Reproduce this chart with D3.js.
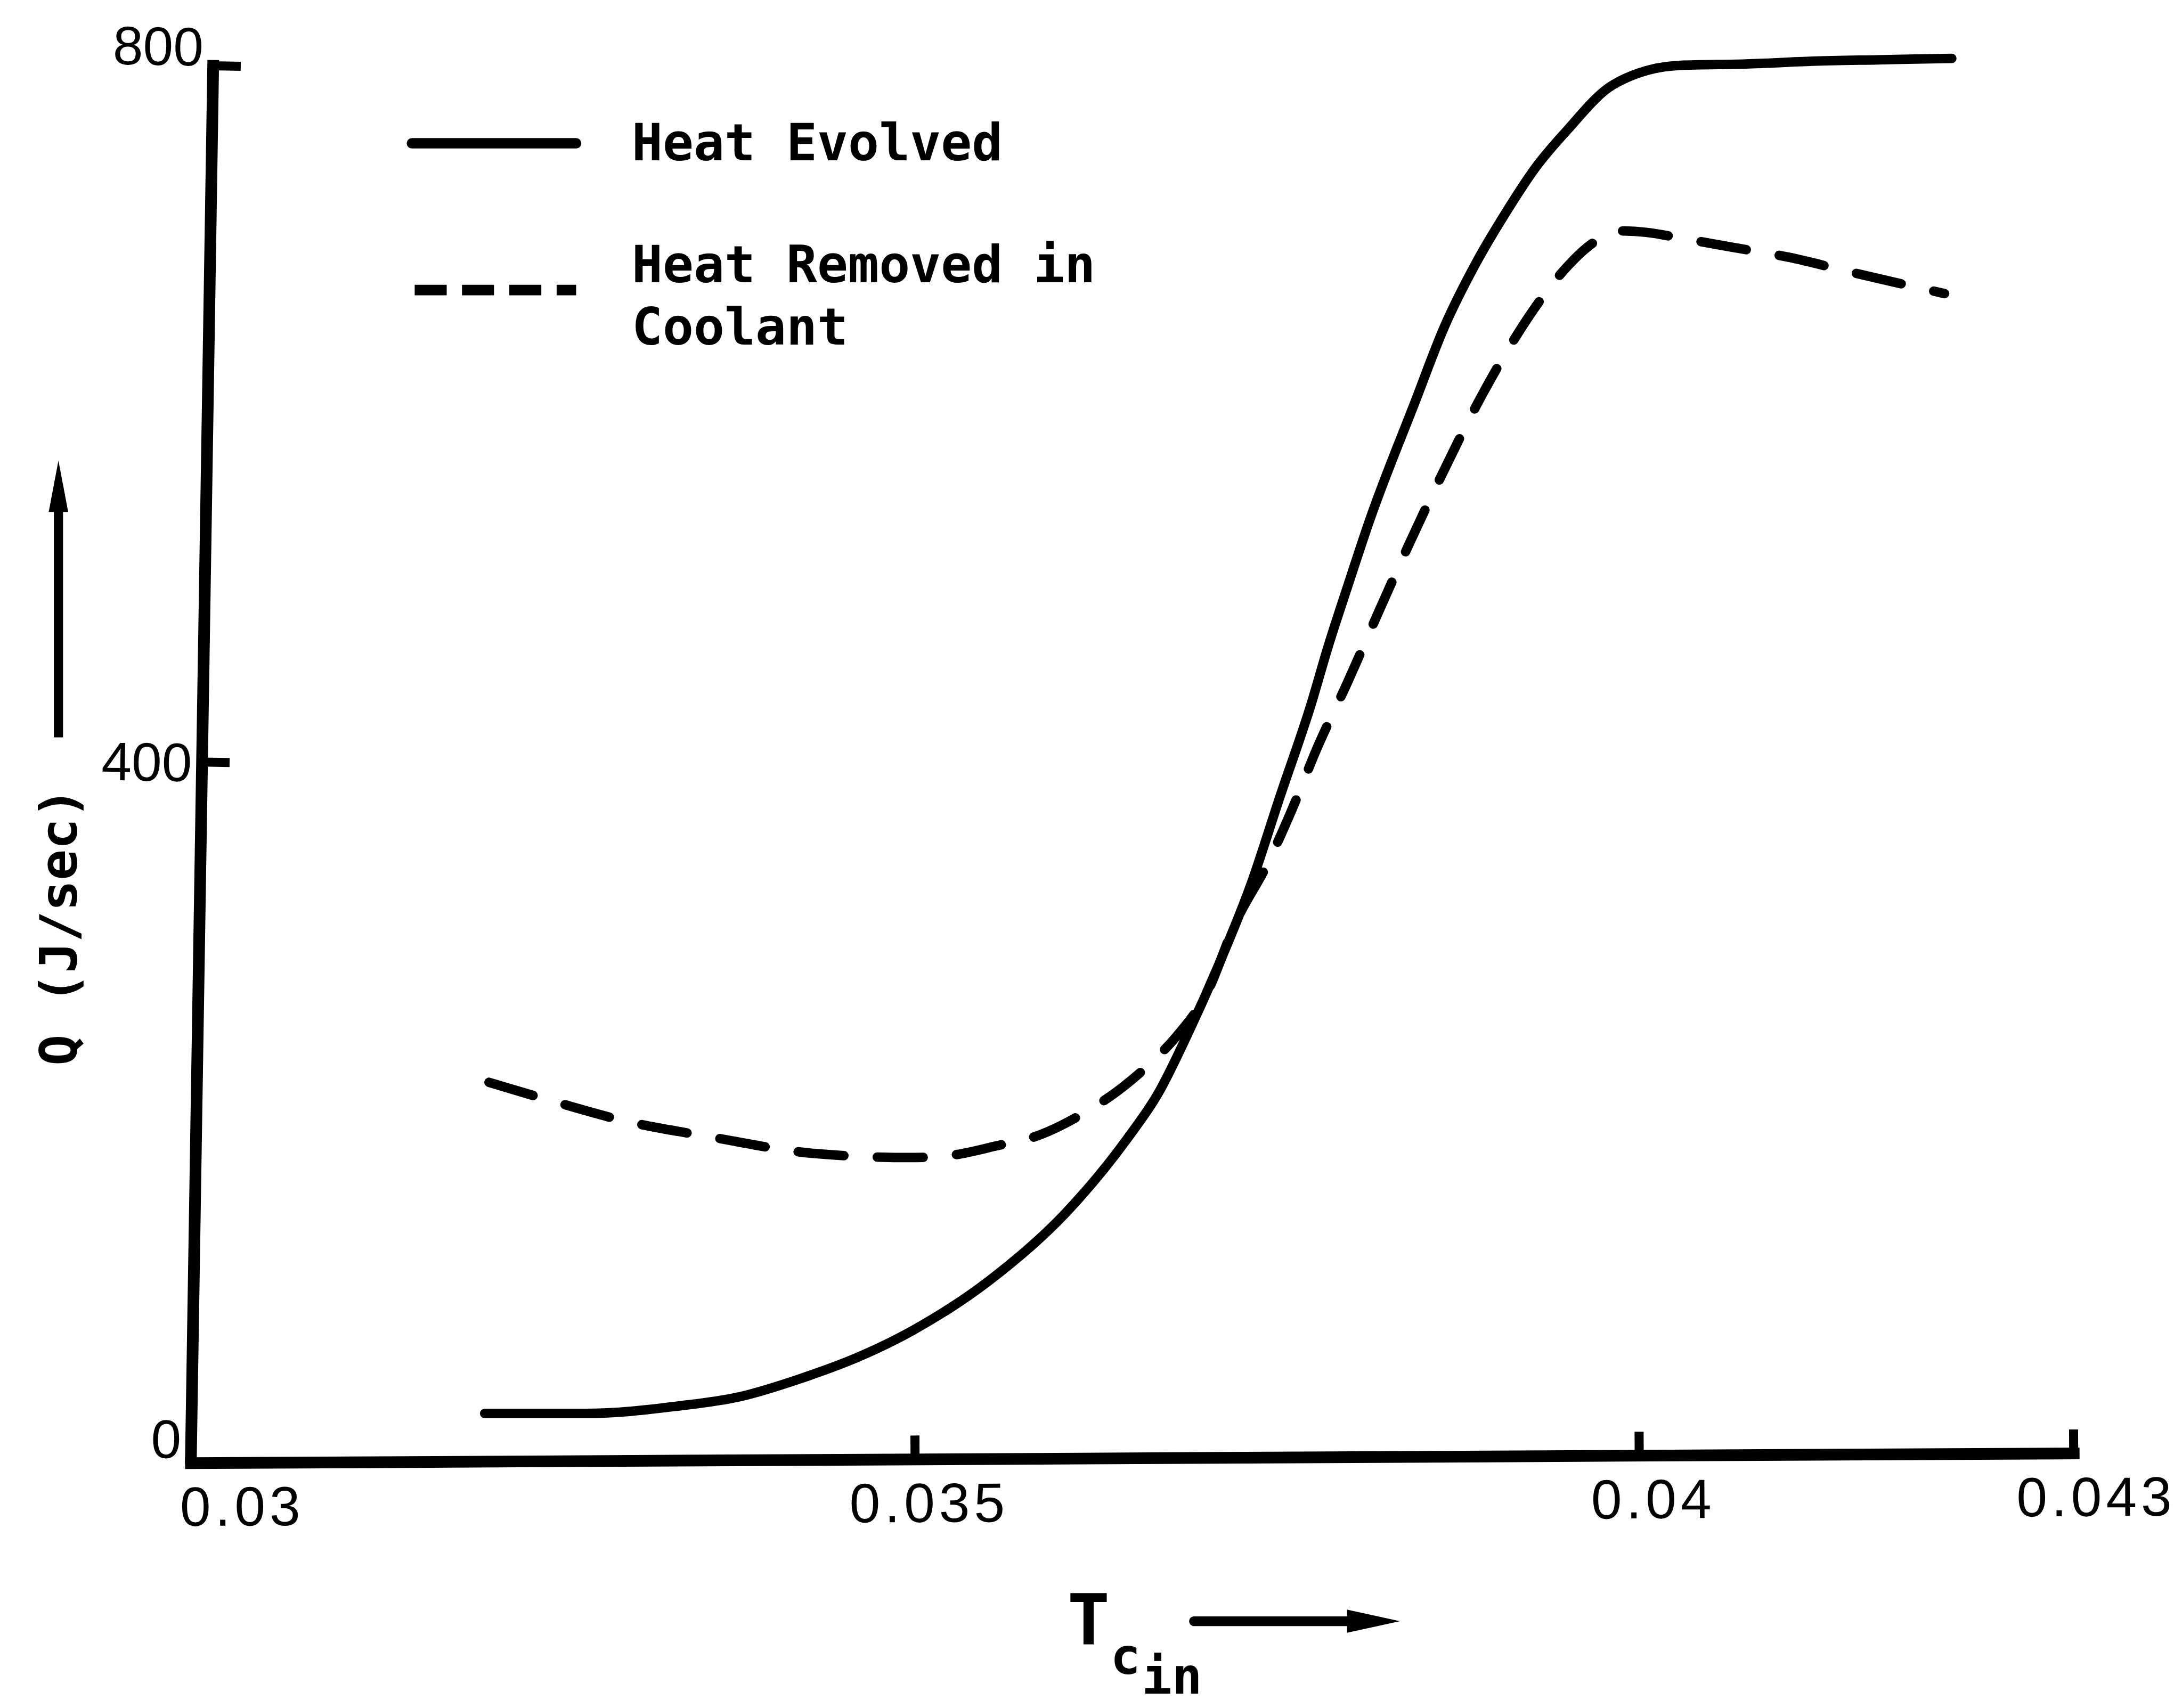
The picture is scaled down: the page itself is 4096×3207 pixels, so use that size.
<!DOCTYPE html>
<html><head><meta charset="utf-8">
<script src="https://cdn.jsdelivr.net/npm/d3@7"></script>
<style>html,body{margin:0;padding:0;background:#fff;} svg{display:block}</style>
</head><body>
<svg id="chart" width="4096" height="3207"></svg>
<script>
// ---- data ----
const evolvedT = [0.03203, 0.03272, 0.03338, 0.03379, 0.03421, 0.03464, 0.03499, 0.03552, 0.03605, 0.03647,
                  0.03668, 0.03689, 0.03710, 0.03732, 0.03752, 0.03774, 0.03785, 0.03799, 0.03814, 0.03845,
                  0.03866, 0.03887, 0.03908, 0.03929, 0.03950, 0.03982, 0.04028, 0.04074, 0.04120, 0.04165,
                  0.04216];
const evolvedQ = [25.6, 25.6, 30.0, 35.2, 45.6, 59.1, 73.5, 102.3, 141.5, 183.8,
                  209.4, 244.6, 283.7, 329.3, 379.6, 434.0, 465.1, 501.1, 538.6, 605.8,
                  650.5, 685.7, 715.3, 741.7, 762.4, 788.8, 800.0, 800.8, 802.4, 803.2,
                  804.0];
const removedT = [0.03206, 0.03245, 0.03301, 0.03358, 0.03430, 0.03497, 0.03520, 0.03559, 0.03580, 0.03620,
                  0.03639, 0.03665, 0.03679, 0.03702, 0.03722, 0.03743, 0.03764, 0.03776, 0.03799, 0.03821,
                  0.03840, 0.03864, 0.03888, 0.03908, 0.03925, 0.03951, 0.03964, 0.03987, 0.04005, 0.04028,
                  0.04066, 0.04104, 0.04144, 0.04211];
const removedQ = [215.8, 206.2, 193.4, 184.6, 175.0, 172.6, 173.4, 179.8, 183.8, 199.8,
                  210.2, 228.6, 240.6, 267.7, 308.5, 340.5, 379.6, 404.4, 446.0, 487.5,
                  522.7, 565.0, 605.0, 634.6, 657.0, 684.9, 695.3, 704.9, 704.1, 700.9,
                  695.3, 689.7, 681.7, 668.9];
const xTicks = [0.03, 0.035, 0.04, 0.043];
const xTickLabels = ["0.03", "0.035", "0.04", "0.043"];
const yTicks = [0, 400, 800];
const yTickLabels = ["0", "400", "800"];
const legendLabels = ["Heat Evolved", "Heat Removed in", "Coolant"];
const yTitle = "Q (J/sec)";
const xTitleParts = ["T", "c", "in"];

// ---- layout ----
const W = 4096, H = 3207, K = W / 1568, s = v => v * K;
const mono = '"DejaVu Sans Mono", monospace';
const sans = '"Liberation Sans", Arial, sans-serif';
const svg = d3.select('#chart');
svg.append('rect').attr('width', W).attr('height', H).attr('fill', '#fff');

const x = d3.scaleLinear().domain([xTicks[0], xTicks[xTicks.length - 1]]).range([s(137), s(1490)]);
const y = d3.scaleLinear().domain([0, 800]).range([s(1048), s(47)]);

// y axis (slightly slanted like the hand drawing)
const yAng = Math.atan2(16, 1001) * 180 / Math.PI;
const gy = svg.append('g')
  .attr('transform', `translate(${x(xTicks[0])},0) rotate(${yAng},0,${y(0)})`)
  .call(d3.axisLeft(y).tickValues(yTicks).tickFormat((d, i) => yTickLabels[i])
        .tickSize(-s(20)).tickSizeOuter(0).tickPadding(s(7)));
gy.select('.domain').attr('stroke-width', s(8.4)).attr('stroke-linecap', 'square');
gy.selectAll('.tick line').attr('stroke-width', s(6.5)).filter(d => d === 0).remove();
gy.selectAll('.tick text').attr('font-family', sans).attr('font-size', s(39))
  .attr('dy', d => (d === 0 || d === 800) ? '0' : '0.36em');

// x axis
const xAng = -Math.atan2(7, 1353) * 180 / Math.PI;
const gx = svg.append('g')
  .attr('transform', `translate(0,${y(0) + s(3.5)}) rotate(${xAng},${x(xTicks[0])},0)`)
  .call(d3.axisBottom(x).tickValues(xTicks).tickFormat((d, i) => xTickLabels[i])
        .tickSize(-s(17)).tickSizeOuter(0).tickPadding(s(17)));
gx.select('.domain').attr('stroke-width', s(8.4)).attr('stroke-linecap', 'square');
gx.selectAll('.tick line').attr('stroke-width', s(6.5)).filter(d => d === xTicks[0]).remove();
gx.selectAll('.tick text').attr('font-family', sans).attr('font-size', s(39.8))
  .attr('letter-spacing', s(3))
  .attr('text-anchor', (d, i) => i === 0 ? 'start' : 'middle')
  .attr('x', (d, i) => i === 0 ? -s(8) : (i === xTicks.length - 1 ? s(16) : s(10)));

// curves
const line = d3.line().x(d => x(d[0])).y(d => y(d[1])).curve(d3.curveMonotoneX);
svg.append('path').datum(d3.zip(evolvedT, evolvedQ)).attr('d', line)
  .attr('fill', 'none').attr('stroke', '#000').attr('stroke-width', s(6.8))
  .attr('stroke-linecap', 'round').attr('stroke-linejoin', 'round');
svg.append('path').datum(d3.zip(removedT, removedQ)).attr('d', line)
  .attr('fill', 'none').attr('stroke', '#000').attr('stroke-width', s(6.8))
  .attr('stroke-linecap', 'round').attr('stroke-dasharray', `${s(33)} ${s(24)}`);

// legend
const lg = svg.append('g');
lg.append('line').attr('x1', s(296)).attr('x2', s(414)).attr('y1', s(103)).attr('y2', s(103))
  .attr('stroke', '#000').attr('stroke-width', s(7.5)).attr('stroke-linecap', 'round');
lg.append('line').attr('x1', s(298)).attr('x2', s(414)).attr('y1', s(208.5)).attr('y2', s(208.5))
  .attr('stroke', '#000').attr('stroke-width', s(7.5)).attr('stroke-dasharray', `${s(23)} ${s(11)}`);
lg.append('text').attr('x', s(454)).attr('y', s(115.2))
  .attr('font-family', mono).attr('font-weight', 'bold').attr('font-size', s(36.9))
  .text(legendLabels[0]);
const t2 = lg.append('text').attr('font-family', mono).attr('font-weight', 'bold').attr('font-size', s(36.9));
t2.append('tspan').attr('x', s(454)).attr('y', s(202.8)).text(legendLabels[1]);
t2.append('tspan').attr('x', s(454)).attr('y', s(247.5)).text(legendLabels[2]);

// y title + arrow
svg.append('text').attr('transform', `translate(${s(55)},${s(666)}) rotate(-90)`)
  .attr('text-anchor', 'middle').attr('font-family', mono).attr('font-weight', 'bold')
  .attr('font-size', s(36.9)).text(yTitle);
svg.append('line').attr('x1', s(42)).attr('x2', s(42)).attr('y1', s(530)).attr('y2', s(360))
  .attr('stroke', '#000').attr('stroke-width', s(6.6));
svg.append('path').attr('d', `M${s(42)},${s(331)} L${s(35)},${s(368)} L${s(49)},${s(368)} Z`).attr('fill', '#000');

// x title (T with subscript c, sub-subscript in) + arrow
const xt = svg.append('text').attr('font-family', mono).attr('font-weight', 'bold');
xt.append('tspan').attr('x', s(767)).attr('y', s(1182)).attr('font-size', s(50.8)).text(xTitleParts[0]);
xt.append('tspan').attr('x', s(798)).attr('y', s(1203)).attr('font-size', s(36)).text(xTitleParts[1]);
xt.append('tspan').attr('x', s(820.5)).attr('y', s(1217.5)).attr('font-size', s(36)).text(xTitleParts[2]);
svg.append('line').attr('x1', s(858)).attr('x2', s(975)).attr('y1', s(1165.3)).attr('y2', s(1165.3))
  .attr('stroke', '#000').attr('stroke-width', s(7)).attr('stroke-linecap', 'round');
svg.append('path').attr('d', `M${s(1006)},${s(1165.3)} L${s(968)},${s(1157)} L${s(968)},${s(1173.6)} Z`).attr('fill', '#000');
</script>
</body></html>
